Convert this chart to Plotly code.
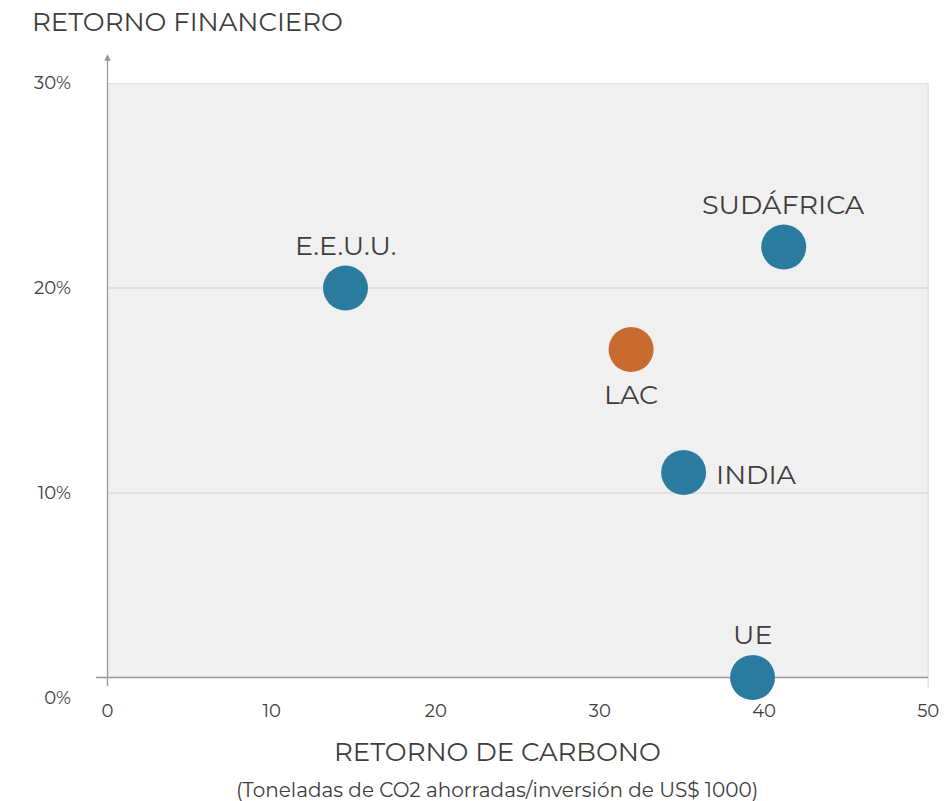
import plotly.graph_objects as go

# ---- data ----
regions = ["E.E.U.U.", "SUDÁFRICA", "LAC", "INDIA", "UE"]
carbon_return = [14.5, 41.2, 31.9, 35.1, 39.3]      # t CO2 saved / US$1000
financial_return = [20, 22, 17, 11, 1]              # %
colors = ["#2b7ba1", "#2b7ba1", "#c86b30", "#2b7ba1", "#2b7ba1"]
label_side = ["top", "top", "bottom", "right", "top"]
x_ticks = [0, 10, 20, 30, 40, 50]
y_ticks = [0, 10, 20, 30]
y_tick_text = ["0%", "10%", "20%", "30%"]

FONT = "Montserrat, 'Open Sans', sans-serif"
TXT = "#3d3d3d"
W, H = 944, 801
L, R, T, B = 95.5, 15.2, 83, 103
XR = [-0.7, 50.05]
YR = [0, 30]


def px_x(px):
    return (px - L) / (W - L - R)


def px_y(py):
    return (H - B - py) / (H - B - T)


fig = go.Figure()

fig.add_trace(go.Scatter(
    x=carbon_return, y=financial_return, mode="markers",
    marker=dict(size=45, color=colors, line=dict(width=0)),
    cliponaxis=False, hoverinfo="skip", showlegend=False,
))

shapes = []
# grey plot background
shapes.append(dict(type="rect", xref="x", yref="y", x0=0, x1=50, y0=1, y1=30,
                   fillcolor="#f0f0f0", line=dict(width=0), layer="below"))
# horizontal grid lines
for v in y_ticks[1:]:
    shapes.append(dict(type="line", xref="x", yref="y", x0=0, x1=50, y0=v, y1=v,
                       line=dict(color="#d0d0d0", width=1), layer="below"))
# right border line
shapes.append(dict(type="line", xref="x", yref="y", x0=50, x1=50, y0=0.5, y1=30,
                   line=dict(color="#d6d6d6", width=1), layer="below"))
# x axis line
shapes.append(dict(type="line", xref="x", yref="y", x0=-0.7, x1=50, y0=1, y1=1,
                   line=dict(color="#999999", width=1.3), layer="below"))

annotations = [
    # y axis with arrow
    dict(x=0, y=31.4, ax=0, ay=0.5, xref="x", yref="y", axref="x", ayref="y",
         text="", showarrow=True, arrowhead=2, arrowsize=1, arrowwidth=1.3,
         arrowcolor="#999999", standoff=0, startstandoff=0),
    dict(x=px_x(497), y=px_y(752), xref="paper", yref="paper", text="RETORNO DE CARBONO",
         showarrow=False, xanchor="center", yanchor="middle",
         font=dict(family=FONT, size=26, color=TXT)),
    dict(x=px_x(497), y=px_y(790), xref="paper", yref="paper",
         text="(Toneladas de CO2 ahorradas/inversión de US$ 1000)",
         showarrow=False, xanchor="center", yanchor="middle",
         font=dict(family=FONT, size=20, color=TXT)),
]

# point labels, anchored to the data points
offsets = {"top": (0, 43, "center"), "bottom": (0, -45, "center"), "right": (30, -2, "left")}
for name, xv, yv, side in zip(regions, carbon_return, financial_return, label_side):
    dx, dy, anchor = offsets[side]
    annotations.append(dict(x=xv, y=yv, xref="x", yref="y", text=name, showarrow=False,
                            xanchor=anchor, yanchor="middle", xshift=dx, yshift=dy,
                            font=dict(family=FONT, size=27, color=TXT)))

fig.update_layout(
    width=W, height=H,
    margin=dict(l=L, r=R, t=T, b=B, autoexpand=False),
    paper_bgcolor="white", plot_bgcolor="white",
    title=dict(text="RETORNO FINANCIERO", x=32 / W, xanchor="left",
               y=1 - 22 / H, yanchor="middle",
               font=dict(family=FONT, size=26, color=TXT)),
    shapes=shapes, annotations=annotations,
    xaxis=dict(range=XR, tickvals=x_ticks, ticktext=[str(v) for v in x_ticks],
               showgrid=False, zeroline=False, showline=False, ticks="",
               automargin=False,
               tickfont=dict(family=FONT, size=18, color=TXT), fixedrange=True),
    yaxis=dict(range=YR, tickvals=y_ticks, ticktext=y_tick_text,
               showgrid=False, zeroline=False, showline=False, ticks="",
               automargin=False, ticklabelstandoff=24,
               tickfont=dict(family=FONT, size=18, color=TXT), fixedrange=True),
)

fig.write_html("out.html", config={"displayModeBar": False},
               post_script="document.body.style.margin='0';")
